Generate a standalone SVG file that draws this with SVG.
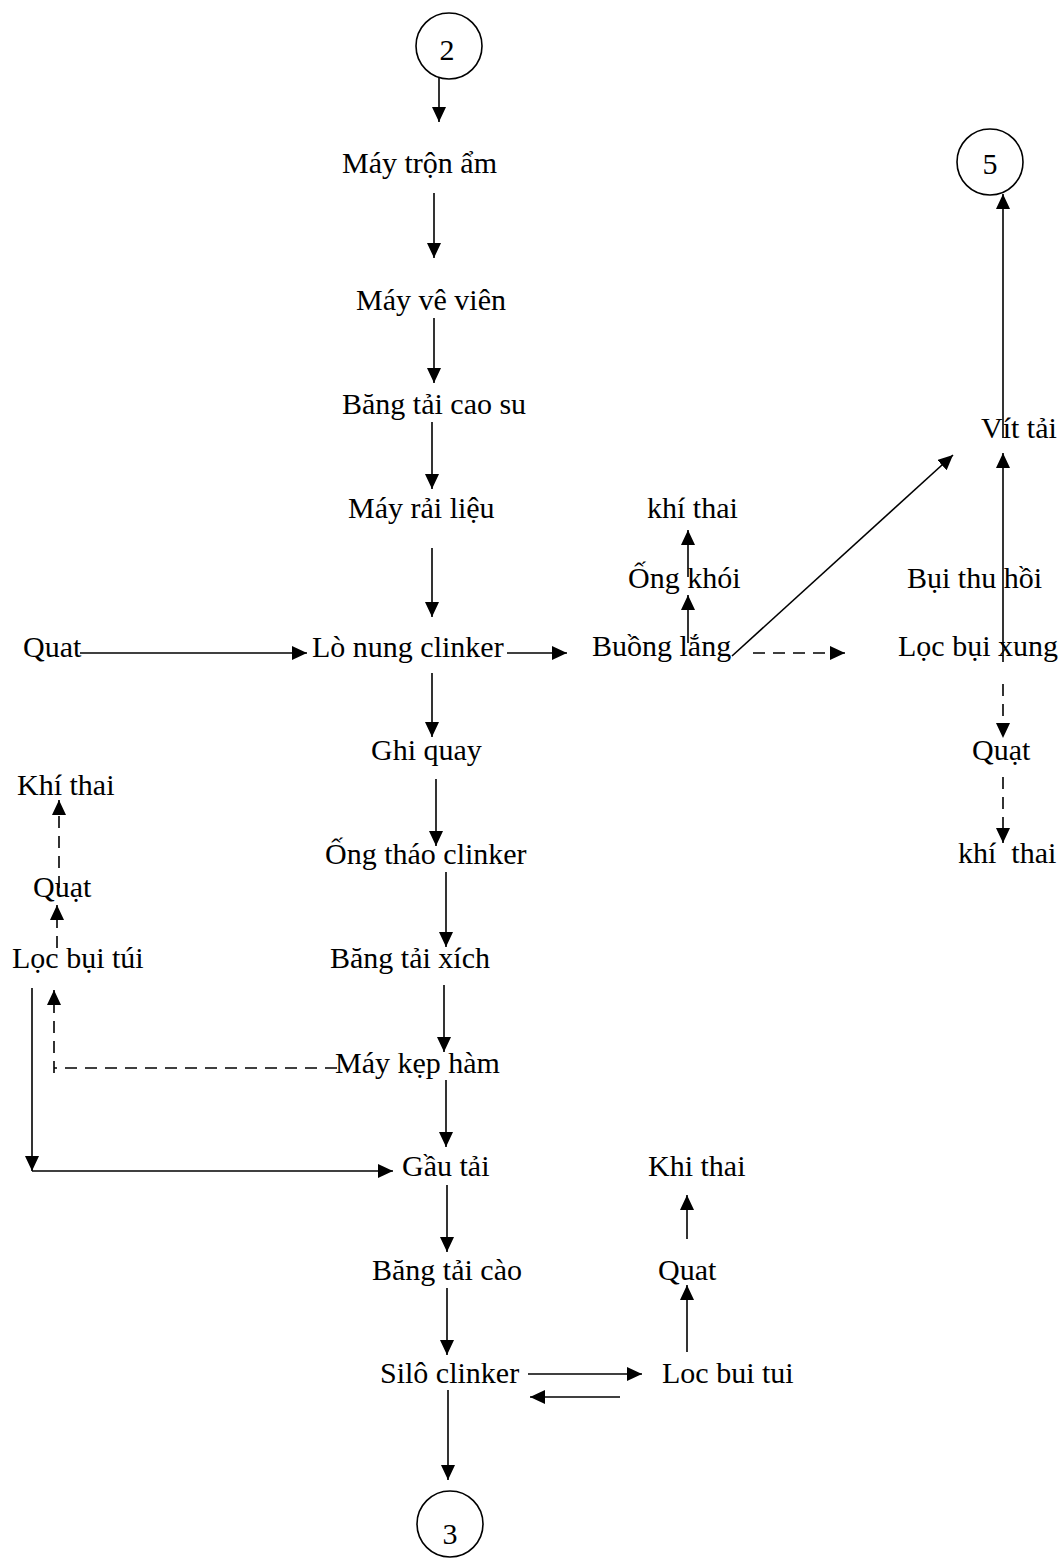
<svg xmlns="http://www.w3.org/2000/svg" width="1064" height="1558" viewBox="0 0 1064 1558">
  <style>
    text { font-family: "Liberation Serif", "Times New Roman", serif; font-size: 30px; fill: #000; }
    .num { text-anchor: middle; font-size: 30px; }
    .conn line, .conn polyline { stroke: #000; stroke-width: 1.6; fill: none; }
    .conn .arr { marker-end: url(#head); }
    .conn .dash { stroke-dasharray: 12 8; }
    .ring { fill: #fff; stroke: #000; stroke-width: 1.6; }
  </style>
  <defs>
    <marker id="head" markerUnits="userSpaceOnUse" markerWidth="16" markerHeight="14" refX="15" refY="7" orient="auto">
      <path d="M0,0 L15,7 L0,14 z" fill="#000"/>
    </marker>
  </defs>

  <!-- connectors -->
  <g id="connectors" class="conn">
    <!-- main line -->
    <line class="arr" x1="439" y1="78" x2="439" y2="122"/>
    <line class="arr" x1="434" y1="193" x2="434" y2="258"/>
    <line class="arr" x1="434" y1="318" x2="434" y2="383"/>
    <line class="arr" x1="432" y1="422" x2="432" y2="489"/>
    <line class="arr" x1="432" y1="548" x2="432" y2="617"/>
    <line class="arr" x1="80" y1="653" x2="307" y2="653"/>
    <line class="arr" x1="507" y1="653" x2="567" y2="653"/>
    <line class="arr" x1="432" y1="673" x2="432" y2="737"/>
    <line class="arr" x1="436" y1="779" x2="436" y2="846"/>
    <line class="arr" x1="446" y1="872" x2="446" y2="947"/>
    <line class="arr" x1="444" y1="985" x2="444" y2="1052"/>
    <line class="arr" x1="446" y1="1080" x2="446" y2="1147"/>
    <line class="arr" x1="447" y1="1185" x2="447" y2="1252"/>
    <line class="arr" x1="447" y1="1288" x2="447" y2="1355"/>
    <line class="arr" x1="448" y1="1390" x2="448" y2="1480"/>
    <!-- silo dust filter loop -->
    <line class="arr" x1="528" y1="1374" x2="642" y2="1374"/>
    <line class="arr" x1="620" y1="1397" x2="530" y2="1397"/>
    <line class="arr" x1="687" y1="1352" x2="687" y2="1285"/>
    <line class="arr" x1="687" y1="1239" x2="687" y2="1195"/>
    <!-- bag filter on the left -->
    <line class="arr" x1="32" y1="988" x2="32" y2="1171"/>
    <line class="arr" x1="32" y1="1171" x2="393" y2="1171"/>
    <line class="dash" x1="337" y1="1068" x2="54" y2="1068"/>
    <line class="arr dash" x1="54" y1="1073" x2="54" y2="990"/>
    <line class="arr dash" x1="57" y1="948" x2="57" y2="905"/>
    <line class="arr dash" x1="59" y1="888" x2="59" y2="800"/>
    <!-- settling chamber branch -->
    <line class="arr" x1="688" y1="643" x2="688" y2="595"/>
    <line class="arr" x1="688" y1="577" x2="688" y2="530"/>
    <line class="arr" x1="732" y1="656" x2="953" y2="455"/>
    <line class="arr dash" x1="753" y1="653" x2="845" y2="653"/>
    <!-- pulse dust filter / screw conveyor -->
    <line class="arr" x1="1003" y1="662" x2="1003" y2="453"/>
    <line class="arr" x1="1003" y1="438" x2="1003" y2="194"/>
    <line class="arr dash" x1="1003" y1="684" x2="1003" y2="738"/>
    <line class="arr dash" x1="1003" y1="777" x2="1003" y2="843"/>
  </g>

  <!-- off-page connectors -->
  <g id="c2"><circle class="ring" cx="449" cy="46" r="33"/><text class="num" x="447" y="60">2</text></g>
  <g id="c5"><circle class="ring" cx="990" cy="162" r="33"/><text class="num" x="990" y="174">5</text></g>
  <g id="c3"><circle class="ring" cx="450" cy="1524" r="33"/><text class="num" x="450" y="1544">3</text></g>

  <!-- process steps -->
  <g id="may-tron-am"><text x="342" y="173">Máy trộn ẩm</text></g>
  <g id="may-ve-vien"><text x="356" y="310">Máy vê viên</text></g>
  <g id="bang-tai-cao-su"><text x="342" y="414">Băng tải cao su</text></g>
  <g id="may-rai-lieu"><text x="348" y="518">Máy rải liệu</text></g>
  <g id="quat-lo"><text x="23" y="657">Quat</text></g>
  <g id="lo-nung"><text x="312" y="657">Lò nung clinker</text></g>
  <g id="buong-lang"><text x="592" y="656">Buồng lắng</text></g>
  <g id="ong-khoi"><text x="628" y="588">Ống khói</text></g>
  <g id="khi-thai-ong-khoi"><text x="647" y="518">khí thai</text></g>
  <g id="bui-thu-hoi"><text x="907" y="588">Bụi thu hồi</text></g>
  <g id="loc-bui-xung"><text x="898" y="656">Lọc bụi xung</text></g>
  <g id="vit-tai"><text x="981" y="438">Vít tải</text></g>
  <g id="quat-xung"><text x="972" y="760">Quạt</text></g>
  <g id="khi-thai-xung"><text x="958" y="863" style="white-space:pre">khí  thai</text></g>
  <g id="ghi-quay"><text x="371" y="760">Ghi quay</text></g>
  <g id="ong-thao"><text x="325" y="864">Ống tháo clinker</text></g>
  <g id="bang-tai-xich"><text x="330" y="968">Băng tải xích</text></g>
  <g id="may-kep-ham"><text x="335" y="1073">Máy kẹp hàm</text></g>
  <g id="gau-tai"><text x="402" y="1176">Gầu tải</text></g>
  <g id="bang-tai-cao"><text x="372" y="1280">Băng tải cào</text></g>
  <g id="silo"><text x="380" y="1383">Silô clinker</text></g>
  <g id="khi-thai-tui"><text x="17" y="795">Khí thai</text></g>
  <g id="quat-tui"><text x="33" y="897">Quạt</text></g>
  <g id="loc-bui-tui"><text x="12" y="968">Lọc bụi túi</text></g>
  <g id="loc-silo"><text x="662" y="1383">Loc bui tui</text></g>
  <g id="quat-silo"><text x="658" y="1280">Quat</text></g>
  <g id="khi-thai-silo"><text x="648" y="1176">Khi thai</text></g>
</svg>
